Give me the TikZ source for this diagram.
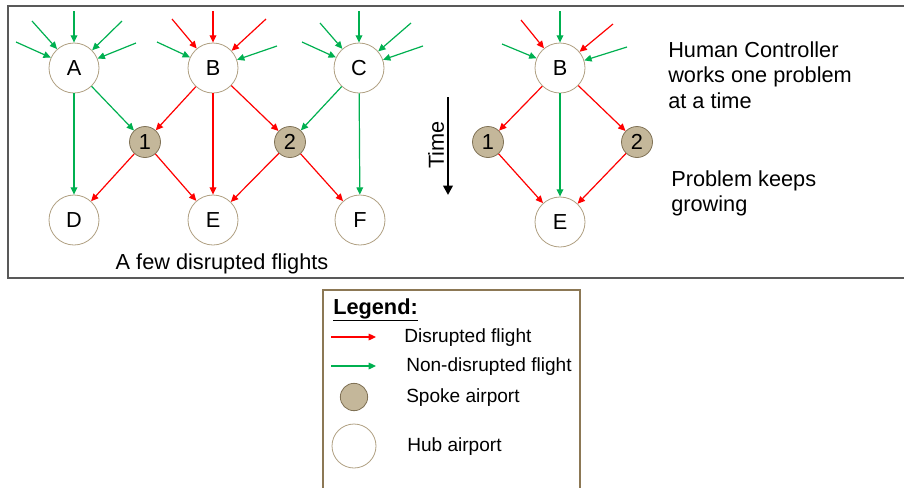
\documentclass[tikz,border=0pt]{standalone}
\usepackage{fontspec}
\setmainfont{Liberation Sans}
\usetikzlibrary{arrows.meta}
\definecolor{fred}{RGB}{255,0,0}
\definecolor{fgreen}{RGB}{0,176,80}
\definecolor{spokefill}{RGB}{196,183,154}
\definecolor{spokeline}{RGB}{128,114,86}
\definecolor{hubline}{RGB}{176,160,130}
\definecolor{legline}{RGB}{140,120,85}
\definecolor{boxline}{RGB}{89,89,89}
\tikzset{
  hub/.style={circle,draw=hubline,line width=0.6pt,fill=white,minimum size=37.5pt,inner sep=0pt,font=\fontsize{16.3}{19}\selectfont},
  spoke/.style={circle,draw=spokeline,line width=0.6pt,fill=spokefill,minimum size=23.25pt,inner sep=0pt,font=\fontsize{16.3}{19}\selectfont},
  red/.style={draw=fred,line width=0.9pt,-{Triangle[length=5.5pt,width=5pt]}},
  grn/.style={draw=fgreen,line width=0.9pt,-{Triangle[length=5.5pt,width=5pt]}},
  big/.style={font=\fontsize{16.3}{19.2}\selectfont},
  leg/.style={font=\fontsize{14.3}{17}\selectfont,anchor=west,inner sep=0pt},
}
\begin{document}
\begin{tikzpicture}[x=0.75pt,y=-0.75pt]
\useasboundingbox (0,0) rectangle (904,487);
% top frame
\draw[boxline,line width=0.9pt] (910,6) -- (8,6) -- (8,278) -- (910,278);
% left diagram
\node[hub] (A) at (74,68) {A};
\node[hub] (B) at (213,68) {B};
\node[hub] (C) at (359,68) {C};
\node[spoke] (S1) at (145,142) {1};
\node[spoke] (S2) at (290,142) {2};
\node[hub] (D) at (74,220) {D};
\node[hub] (E) at (213,220) {E};
\node[hub] (F) at (360,220) {F};
\foreach \n/\dx/\dy/\s/\k in {
  A/0/-57/grn/1, A/-42/-47/grn/2, A/-58/-26/grn/3, A/48/-47/grn/4, A/62/-25/grn/5,
  B/0/-57/red/1, B/-41/-49/red/2, B/-56/-26/grn/3, B/53/-49/red/4, B/64/-22/grn/5,
  C/0/-57/grn/1, C/-39/-45/grn/2, C/-57/-26/grn/3, C/52/-45/grn/4, C/64/-22/grn/5}
{ \path (\n) ++(\dx,\dy) coordinate (\n-in\k); \draw[\s] (\n-in\k) -- (\n); }
\draw[grn] (A) -- (D);
\draw[grn] (A) -- (S1);
\draw[red] (B) -- (S1);
\draw[red] (B) -- (E);
\draw[red] (B) -- (S2);
\draw[grn] (C) -- (S2);
\draw[grn] (C) -- (F);
\draw[red] (S1) -- (D);
\draw[red] (S1) -- (E);
\draw[red] (S2) -- (E);
\draw[red] (S2) -- (F);
\node[big] (cap) at (222,264) {A few disrupted flights};
% time arrow
\coordinate (t1) at (448,97);
\coordinate (t2) at (448,195);
\draw[line width=2pt,-{Triangle[length=7pt,width=7pt]}] (t1) -- (t2);
\node[big,rotate=90] (time) at (436,145) {Time};
% right diagram
\node[hub] (RB) at (560,68) {B};
\node[spoke] (R1) at (488,142) {1};
\node[spoke] (R2) at (637,142) {2};
\node[hub] (RE) at (560,222) {E};
\foreach \dx/\dy/\s/\k in {0/-57/grn/1, -39/-48/red/2, -58/-24/grn/3, 53/-44/red/4, 67/-21/grn/5}
{ \path (RB) ++(\dx,\dy) coordinate (RB-in\k); \draw[\s] (RB-in\k) -- (RB); }
\draw[red] (RB) -- (R1);
\draw[grn] (RB) -- (RE);
\draw[red] (RB) -- (R2);
\draw[red] (R1) -- (RE);
\draw[red] (R2) -- (RE);
\node[big,anchor=north west,align=left,inner sep=0pt] (hc) at (668,41) {Human Controller\\works one problem\\at a time};
\node[big,anchor=north west,align=left,inner sep=0pt] (pk) at (671,170) {Problem keeps\\growing};
% legend
\draw[legline,line width=0.9pt] (323,495) -- (323,290) -- (580,290) -- (580,495);
\node[font=\fontsize{16.3}{19}\selectfont\bfseries,anchor=west,inner sep=0pt] (lt) at (333,310) {\underline{Legend:}};
\coordinate (l1a) at (331,337); \coordinate (l1b) at (376,337);
\draw[red] (l1a) -- (l1b);
\node[leg] (l1) at (404,338) {Disrupted flight};
\coordinate (l2a) at (331,366); \coordinate (l2b) at (376,366);
\draw[grn] (l2a) -- (l2b);
\node[leg] (l2) at (406,367) {Non-disrupted flight};
\node[spoke,minimum size=20.5pt] (ls) at (354,397) {};
\node[leg] (l3) at (406,398) {Spoke airport};
\node[hub,minimum size=33pt] (lh) at (354,446) {};
\node[leg] (l4) at (407,447) {Hub airport};
\end{tikzpicture}
\end{document}
